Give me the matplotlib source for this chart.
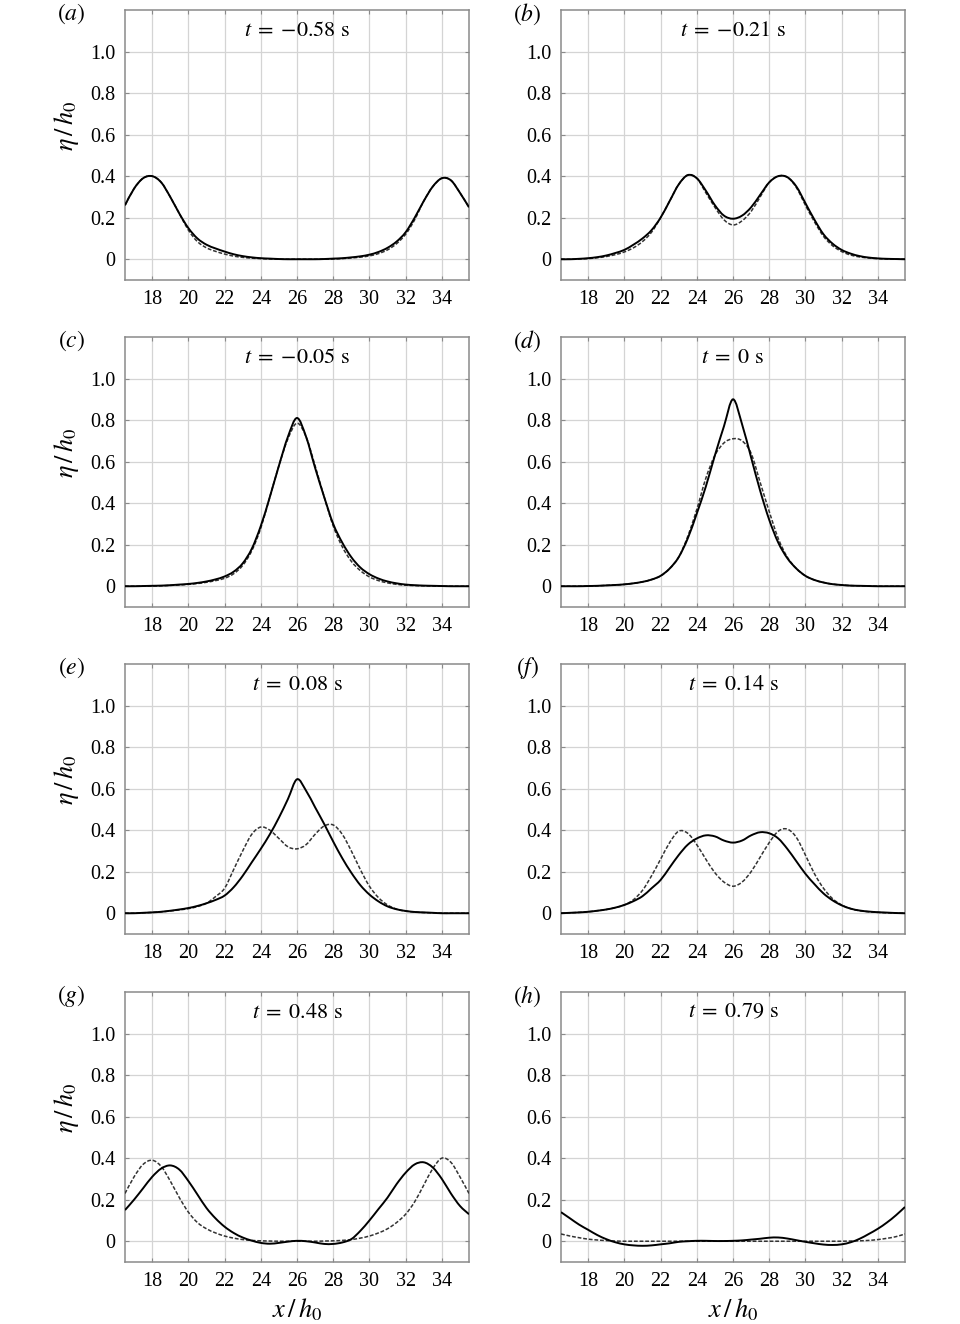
import numpy as np
import matplotlib
matplotlib.use("Agg")
import matplotlib.pyplot as plt
from matplotlib.path import Path
from matplotlib.patches import PathPatch

plt.rcParams['font.family'] = ['Liberation Serif', 'DejaVu Serif']
plt.rcParams['mathtext.fontset'] = 'stix'

# sampling positions x/h0 (read every 0.5)
X = np.arange(16.5, 35.51, 0.5)

PANEL_LABELS = ['a', 'b', 'c', 'd', 'e', 'f', 'g', 'h']
TIMES = ['{-}0.58', '{-}0.21', '{-}0.05', '0', '0.08', '0.14', '0.48', '0.79']

# solid curves
a_solid = [0.26, 0.34, 0.39, 0.40, 0.37, 0.30, 0.22, 0.15, 0.10, 0.07, 0.052, 0.037, 0.024,
           0.015, 0.009, 0.005, 0.003, 0.001, 0.0, 0.0, 0.0, 0.0, 0.001, 0.003, 0.005, 0.009,
           0.014, 0.022, 0.035, 0.055, 0.085, 0.13, 0.20, 0.28, 0.35, 0.39, 0.38, 0.32, 0.25]
b_solid = [0.0, 0.0, 0.002, 0.005, 0.01, 0.018, 0.03, 0.045, 0.07, 0.10, 0.14, 0.20, 0.28,
           0.36, 0.405, 0.39, 0.33, 0.26, 0.21, 0.195, 0.21, 0.25, 0.31, 0.37, 0.40, 0.395,
           0.35, 0.27, 0.19, 0.12, 0.075, 0.045, 0.027, 0.015, 0.008, 0.004, 0.002, 0.001, 0.0]
c_solid = [0.0, 0.0, 0.001, 0.002, 0.003, 0.005, 0.008, 0.011, 0.016, 0.023, 0.033, 0.047, 0.07,
           0.11, 0.18, 0.29, 0.43, 0.58, 0.72, 0.81, 0.72, 0.57, 0.43, 0.30, 0.21, 0.14,
           0.09, 0.058, 0.037, 0.023, 0.014, 0.008, 0.005, 0.003, 0.002, 0.001, 0.0, 0.0, 0.0]
d_solid = [0.0, 0.0, 0.0, 0.001, 0.002, 0.004, 0.006, 0.009, 0.014, 0.021, 0.032, 0.05, 0.085,
           0.14, 0.23, 0.35, 0.48, 0.63, 0.77, 0.90, 0.78, 0.62, 0.46, 0.32, 0.21, 0.135,
           0.085, 0.05, 0.03, 0.018, 0.01, 0.006, 0.003, 0.002, 0.001, 0.0, 0.0, 0.0, 0.0]
e_solid = [0.0, 0.0, 0.002, 0.004, 0.007, 0.012, 0.018, 0.025, 0.035, 0.048, 0.064, 0.085, 0.125,
           0.18, 0.245, 0.31, 0.38, 0.46, 0.55, 0.645, 0.59, 0.51, 0.43, 0.345, 0.265, 0.195,
           0.135, 0.09, 0.057, 0.033, 0.019, 0.011, 0.006, 0.004, 0.002, 0.0, 0.0, 0.0, 0.0]
f_solid = [0.0, 0.002, 0.004, 0.007, 0.012, 0.018, 0.027, 0.04, 0.058, 0.082, 0.12, 0.16, 0.22,
           0.28, 0.33, 0.36, 0.375, 0.37, 0.35, 0.34, 0.35, 0.375, 0.39, 0.385, 0.36, 0.31,
           0.25, 0.19, 0.14, 0.095, 0.062, 0.038, 0.022, 0.013, 0.008, 0.005, 0.003, 0.001, 0.0]
g_solid = [0.15, 0.20, 0.255, 0.31, 0.35, 0.365, 0.345, 0.29, 0.225, 0.16, 0.11, 0.07, 0.04,
           0.018, 0.003, -0.008, -0.012, -0.008, -0.002, 0.002, 0.0, -0.006, -0.013, -0.013, -0.006, 0.01,
           0.05, 0.10, 0.155, 0.21, 0.275, 0.33, 0.37, 0.38, 0.355, 0.30, 0.23, 0.17, 0.13]
h_solid = [0.14, 0.11, 0.08, 0.055, 0.03, 0.01, -0.005, -0.015, -0.02, -0.022, -0.02, -0.015, -0.01,
           -0.003, 0.0, 0.002, 0.002, 0.001, 0.001, 0.002, 0.004, 0.008, 0.012, 0.017, 0.018, 0.013,
           0.005, -0.003, -0.01, -0.016, -0.018, -0.015, -0.005, 0.012, 0.035, 0.06, 0.09, 0.125, 0.165]

# dashed curves
a_dash = [0.26, 0.34, 0.39, 0.40, 0.37, 0.30, 0.22, 0.14, 0.085, 0.055, 0.038, 0.025, 0.015,
          0.009, 0.005, 0.003, 0.001, 0.0, 0.0, 0.0, 0.0, 0.0, 0.0, 0.001, 0.003, 0.006,
          0.010, 0.016, 0.027, 0.045, 0.075, 0.12, 0.19, 0.28, 0.35, 0.39, 0.38, 0.32, 0.25]
b_dash = [0.0, 0.0, 0.001, 0.003, 0.007, 0.013, 0.022, 0.035, 0.055, 0.085, 0.13, 0.20, 0.28,
          0.36, 0.405, 0.39, 0.32, 0.25, 0.19, 0.165, 0.185, 0.23, 0.30, 0.37, 0.40, 0.395,
          0.345, 0.26, 0.18, 0.11, 0.065, 0.037, 0.02, 0.011, 0.006, 0.003, 0.001, 0.0, 0.0]
c_dash = [0.0, 0.0, 0.0, 0.001, 0.002, 0.004, 0.006, 0.009, 0.013, 0.019, 0.027, 0.038, 0.06,
          0.10, 0.17, 0.28, 0.43, 0.58, 0.71, 0.785, 0.72, 0.58, 0.43, 0.29, 0.19, 0.12,
          0.075, 0.045, 0.027, 0.016, 0.009, 0.005, 0.003, 0.002, 0.001, 0.0, 0.0, 0.0, 0.0]
d_dash = [0.0, 0.0, 0.0, 0.001, 0.002, 0.004, 0.006, 0.009, 0.014, 0.021, 0.032, 0.05, 0.085,
          0.14, 0.24, 0.37, 0.52, 0.63, 0.69, 0.71, 0.70, 0.64, 0.50, 0.36, 0.23, 0.14,
          0.085, 0.05, 0.03, 0.018, 0.01, 0.006, 0.003, 0.002, 0.001, 0.0, 0.0, 0.0, 0.0]
e_dash = [0.0, 0.0, 0.002, 0.004, 0.007, 0.011, 0.016, 0.022, 0.032, 0.048, 0.08, 0.12, 0.21,
          0.30, 0.38, 0.415, 0.40, 0.36, 0.32, 0.31, 0.33, 0.38, 0.42, 0.425, 0.38, 0.30,
          0.21, 0.13, 0.075, 0.04, 0.02, 0.01, 0.006, 0.003, 0.002, 0.0, 0.0, 0.0, 0.0]
f_dash = [0.0, 0.002, 0.004, 0.007, 0.012, 0.018, 0.027, 0.04, 0.065, 0.11, 0.18, 0.26, 0.34,
          0.395, 0.385, 0.33, 0.26, 0.195, 0.15, 0.13, 0.15, 0.20, 0.27, 0.34, 0.395, 0.405,
          0.365, 0.28, 0.19, 0.12, 0.07, 0.04, 0.022, 0.012, 0.007, 0.004, 0.002, 0.001, 0.0]
g_dash = [0.23, 0.31, 0.37, 0.39, 0.36, 0.29, 0.21, 0.14, 0.09, 0.06, 0.04, 0.025, 0.015,
          0.008, 0.004, 0.002, 0.001, 0.0, 0.0, 0.0, 0.0, 0.0, 0.001, 0.002, 0.004, 0.008,
          0.015, 0.025, 0.04, 0.06, 0.09, 0.13, 0.19, 0.27, 0.35, 0.40, 0.38, 0.31, 0.23]
h_dash = [0.035, 0.025, 0.017, 0.01, 0.006, 0.003, 0.001, 0.0, 0.0, 0.0, 0.0, 0.0, 0.0,
          0.0, 0.0, 0.0, 0.0, 0.0, 0.0, 0.0, 0.0, 0.0, 0.0, 0.0, 0.0, 0.0,
          0.0, 0.0, 0.0, 0.0, 0.0, 0.0, 0.001, 0.002, 0.004, 0.008, 0.014, 0.022, 0.035]

SOLID = [a_solid, b_solid, c_solid, d_solid, e_solid, f_solid, g_solid, h_solid]
DASHED = [a_dash, b_dash, c_dash, d_dash, e_dash, f_dash, g_dash, h_dash]

X_TICKS = [18, 20, 22, 24, 26, 28, 30, 32, 34]
Y_TICKS = [0, 0.2, 0.4, 0.6, 0.8, 1.0]
Y_TICKLABELS = ['0', '0.2', '0.4', '0.6', '0.8', '1.0']


def smooth_curve(ax, x, y, **kw):
    # draw a smooth (Catmull-Rom style) curve passing through the read points
    pts = np.column_stack([x, y])
    n = len(pts)
    verts = [pts[0]]
    codes = [Path.MOVETO]
    for k in range(n - 1):
        p0 = pts[k - 1] if k > 0 else pts[k]
        p1, p2 = pts[k], pts[k + 1]
        p3 = pts[k + 2] if k + 2 < n else pts[k + 1]
        verts += [p1 + (p2 - p0) / 6.0, p2 - (p3 - p1) / 6.0, p2]
        codes += [Path.CURVE4] * 3
    ax.add_patch(PathPatch(Path(verts, codes), fill=False, transform=ax.transData, **kw))


fig = plt.figure(figsize=(9.6, 13.24), dpi=100, facecolor='white')

W, H = 960.0, 1324.0
col_left = [125, 561]
col_width = 344
row_top = [10, 337, 664, 992]
ax_height = 270

spine_col = '#8a8a8a'
for i in range(8):
    r, c = divmod(i, 2)
    ax = fig.add_axes([col_left[c] / W, 1 - (row_top[r] + ax_height) / H,
                       col_width / W, ax_height / H])
    smooth_curve(ax, X, DASHED[i], edgecolor='#333333', lw=1.1, ls=(0, (2.5, 1.2)), zorder=3)
    smooth_curve(ax, X, SOLID[i], edgecolor='black', lw=1.4, zorder=4)

    ax.set_xlim(16.5, 35.5)
    ax.set_ylim(-0.1, 1.2)
    ax.set_xticks(X_TICKS)
    ax.set_yticks(Y_TICKS)
    ax.set_yticklabels(Y_TICKLABELS)
    ax.grid(True, color='#d4d4d4', lw=0.9)
    ax.set_axisbelow(True)
    for s in ax.spines.values():
        s.set_color(spine_col)
        s.set_linewidth(1.1)
    ax.tick_params(direction='in', length=3, width=0.8, color=spine_col,
                   top=True, right=True, labelsize=14.5, pad=7)

    ax.text(0.5, 0.922, r'$t\;=\;%s\ \mathrm{s}$' % TIMES[i],
            transform=ax.transAxes, ha='center', va='center', fontsize=16)

    lab_x = -0.155 if c == 0 else -0.097
    ax.text(lab_x, 0.985, r'$(%s)$' % PANEL_LABELS[i], transform=ax.transAxes,
            ha='center', va='center', fontsize=17)

    if c == 0:
        ax.set_ylabel(r'$\eta\,/\,h_0$', fontsize=19)
        ax.yaxis.set_label_coords(-0.128, 0.57)
    if r == 3:
        ax.set_xlabel(r'$x\,/\,h_0$', fontsize=19, labelpad=4)

fig.savefig('out.png', dpi=100, facecolor='white')
